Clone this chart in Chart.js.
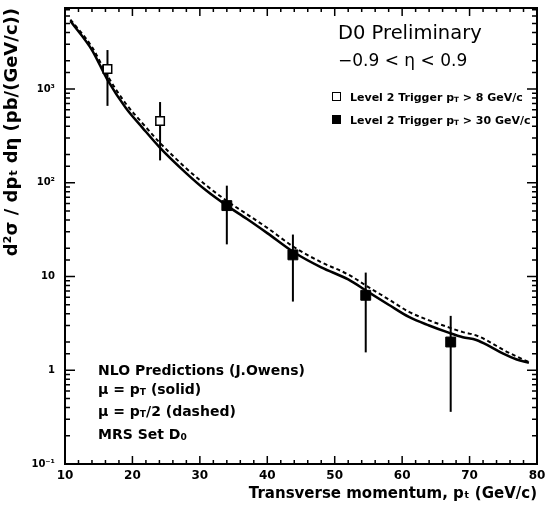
<!DOCTYPE html>
<html>
<head>
<meta charset="utf-8">
<script src="https://cdn.jsdelivr.net/npm/chart.js@4.4.0/dist/chart.umd.min.js"></script>
<style>
  body { margin: 0; background: #fff; }
  #wrap { position: relative; width: 545px; height: 505px; overflow: hidden; }
  #chart { position: absolute; left: 0; top: 0; }
  .note { position: absolute; font-family: "DejaVu Sans", sans-serif; font-weight: bold; color: #000; white-space: nowrap; line-height: 1; }
  .note sub { font-size: 65%; vertical-align: -0.15em; }
  .mk { display: inline-block; width: 7px; height: 7px; border: 1.5px solid #000; margin-right: 9px; vertical-align: 0px; }
</style>
</head>
<body>
<div id="wrap">
  <canvas id="chart" width="545" height="505"></canvas>
  <div class="note" style="left:338px; top:23px; font-size:19.5px; font-weight:normal;">D0 Preliminary</div>
  <div class="note" style="left:338px; top:52px; font-size:17px; font-weight:normal;">&minus;0.9 &lt; &eta; &lt; 0.9</div>
  <div class="note" style="left:332px; top:92px; font-size:11px;"><span class="mk" style="background:#fff"></span>Level 2 Trigger p<sub>T</sub> &gt; 8 GeV/c</div>
  <div class="note" style="left:332px; top:115px; font-size:11px;"><span class="mk" style="background:#000"></span>Level 2 Trigger p<sub>T</sub> &gt; 30 GeV/c</div>
  <div class="note" style="left:98px; top:361px; font-size:14px; line-height:19px;">
    NLO Predictions (J.Owens)<br>
    &mu; = p<sub>T</sub> (solid)<br>
    &mu; = p<sub>T</sub>/2 (dashed)<br>
    MRS Set D<sub>0</sub>
  </div>
</div>
<script>
// data
const openX = [16.3, 24.1];
const openY = [1630, 455];
const openLo = [660, 173];
const openHi = [2600, 725];

const fullX = [34.0, 43.8, 54.6, 67.2];
const fullY = [57, 17, 6.3, 2.0];
const fullLo = [22, 5.4, 1.55, 0.36];
const fullHi = [93, 28, 11, 3.8];

const curveX = [10.8, 14, 16.3, 19, 21.5, 24, 28, 31, 34, 37, 40, 44, 48, 52, 55, 58, 61, 64, 67, 69, 71, 73, 75, 77, 78.8];
const solidY = [5300, 2600, 1250, 630, 385, 240, 126, 82, 57, 41, 29, 18, 12.5, 9.3, 6.8, 5.0, 3.7, 3.0, 2.5, 2.25, 2.1, 1.8, 1.5, 1.3, 1.2];
const dashedY = [5500, 2800, 1380, 700, 430, 270, 142, 93, 64, 46, 33, 20.5, 14.2, 10.5, 7.7, 5.7, 4.2, 3.4, 2.85, 2.55, 2.35, 2.0, 1.65, 1.4, 1.22];

const yLabels = {'-1': '10\u207B\u00B9', '0': '1', '1': '10', '2': '10\u00B2', '3': '10\u00B3'};

function pts(xs, ys) {
  return xs.map((x, i) => ({x: x, y: ys[i]}));
}

// vertical error bars, drawn under the markers
const errorBars = {
  id: 'errorBars',
  beforeDatasetsDraw(chart) {
    const ctx = chart.ctx;
    const xs = chart.scales.x, ys = chart.scales.y;
    ctx.save();
    ctx.strokeStyle = '#000';
    ctx.lineWidth = 2;
    const sets = [[openX, openLo, openHi], [fullX, fullLo, fullHi]];
    for (const [X, lo, hi] of sets) {
      for (let i = 0; i < X.length; i++) {
        const px = xs.getPixelForValue(X[i]);
        ctx.beginPath();
        ctx.moveTo(px, ys.getPixelForValue(lo[i]));
        ctx.lineTo(px, ys.getPixelForValue(hi[i]));
        ctx.stroke();
      }
    }
    ctx.restore();
  }
};

// frame with inward ticks
const frame = {
  id: 'frame',
  afterDraw(chart) {
    const ctx = chart.ctx;
    const a = chart.chartArea;
    const xs = chart.scales.x, ys = chart.scales.y;
    ctx.save();
    ctx.strokeStyle = '#000';
    ctx.lineWidth = 1.5;
    for (const t of xs.ticks) {
      const px = xs.getPixelForValue(t.value);
      const len = t.value % 10 === 0 ? 8 : 4;
      ctx.beginPath();
      ctx.moveTo(px, a.bottom); ctx.lineTo(px, a.bottom - len);
      ctx.moveTo(px, a.top); ctx.lineTo(px, a.top + len);
      ctx.stroke();
    }
    for (const t of ys.ticks) {
      const l = Math.log10(t.value);
      const major = Math.abs(l - Math.round(l)) < 1e-6;
      const py = ys.getPixelForValue(t.value);
      const len = major ? 10 : 5;
      ctx.beginPath();
      ctx.moveTo(a.left, py); ctx.lineTo(a.left + len, py);
      ctx.moveTo(a.right, py); ctx.lineTo(a.right - len, py);
      ctx.stroke();
    }
    ctx.lineWidth = 2;
    ctx.strokeRect(a.left, a.top, a.right - a.left, a.bottom - a.top);
    ctx.restore();
  }
};

new Chart(document.getElementById('chart'), {
  type: 'scatter',
  data: {
    datasets: [
      {
        label: 'Level 2 Trigger pT > 8 GeV/c',
        data: pts(openX, openY),
        pointStyle: 'rect',
        pointRadius: 6,
        backgroundColor: '#fff',
        borderColor: '#000',
        borderWidth: 1.5,
        order: 0
      },
      {
        label: 'Level 2 Trigger pT > 30 GeV/c',
        data: pts(fullX, fullY),
        pointStyle: 'rect',
        pointRadius: 7,
        backgroundColor: '#000',
        borderColor: '#000',
        borderWidth: 1,
        order: 0
      },
      {
        label: 'mu = pT (solid)',
        type: 'line',
        data: pts(curveX, solidY),
        borderColor: '#000',
        borderWidth: 2.5,
        pointRadius: 0,
        cubicInterpolationMode: 'monotone',
        fill: false,
        order: 2
      },
      {
        label: 'mu = pT/2 (dashed)',
        type: 'line',
        data: pts(curveX, dashedY),
        borderColor: '#000',
        borderWidth: 2,
        borderDash: [4, 3],
        pointRadius: 0,
        cubicInterpolationMode: 'monotone',
        fill: false,
        order: 1
      }
    ]
  },
  options: {
    responsive: false,
    animation: false,
    layout: { padding: { top: 3, right: 5, left: 0, bottom: 0 } },
    plugins: { legend: { display: false }, tooltip: { enabled: false } },
    scales: {
      x: {
        type: 'linear',
        min: 10,
        max: 80,
        grid: { display: false, drawTicks: false },
        border: { display: false },
        afterFit(s) { s.height = 41; s.paddingLeft = 0; s.paddingRight = 0; },
        ticks: {
          stepSize: 2,
          autoSkip: false,
          maxRotation: 0,
          padding: 5,
          color: '#000',
          font: { family: 'DejaVu Sans', size: 12, weight: 'bold' },
          callback: (v) => (v % 10 === 0 ? String(v) : '')
        },
        title: {
          display: true,
          text: 'Transverse momentum, p\u209C (GeV/c)',
          align: 'end',
          color: '#000',
          padding: { top: 0, bottom: 2 },
          font: { family: 'DejaVu Sans', size: 15, weight: 'bold' }
        }
      },
      y: {
        type: 'logarithmic',
        min: 0.1,
        max: 7300,
        grid: { display: false, drawTicks: false },
        border: { display: false },
        afterFit(s) { s.width = 65; s.paddingTop = 0; s.paddingBottom = 0; },
        ticks: {
          autoSkip: false,
          padding: 10,
          color: '#000',
          font: { family: 'DejaVu Sans', size: 10, weight: 'bold' },
          callback: (v) => {
            const l = Math.log10(v);
            const r = Math.round(l);
            return Math.abs(l - r) < 1e-6 ? (yLabels[String(r)] || '') : '';
          }
        },
        title: {
          display: true,
          text: 'd\u00B2\u03C3 / dp\u209C d\u03B7 (pb/(GeV/c))',
          align: 'end',
          color: '#000',
          padding: { top: 2, bottom: 2 },
          font: { family: 'DejaVu Sans', size: 18, weight: 'bold' }
        }
      }
    }
  },
  plugins: [errorBars, frame]
});
</script>
</body>
</html>
